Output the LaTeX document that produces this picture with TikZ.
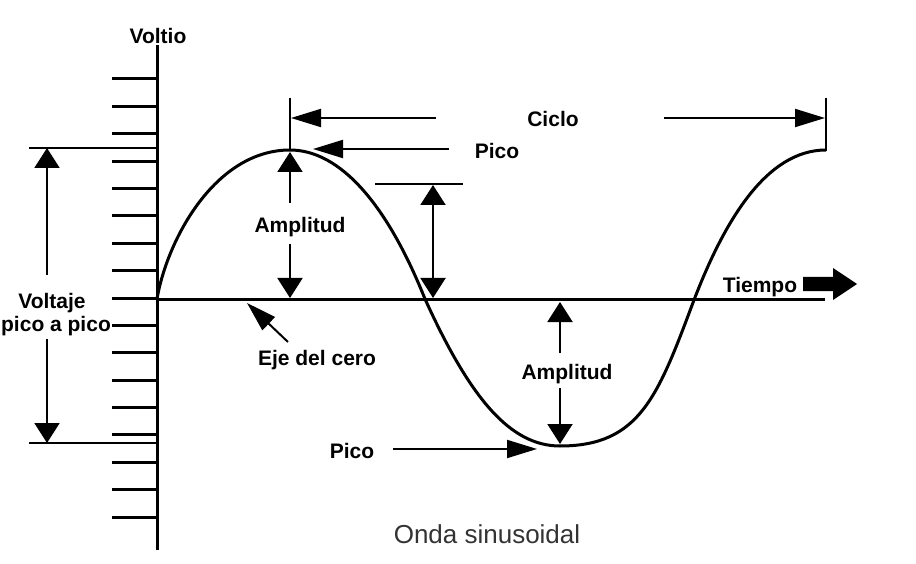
\documentclass[tikz,border=0pt]{standalone}
\usepackage{fontspec}
\setmainfont{Liberation Sans}
\usetikzlibrary{arrows.meta}
\begin{document}
\begin{tikzpicture}[x=1pt,y=-1pt,
  axisline/.style={line width=3pt},
  tickline/.style={line width=3pt},
  guide/.style={line width=2.2pt},
  wave/.style={line width=3pt, line join=round},
  lbl/.style={font=\fontsize{21}{21}\selectfont\bfseries, text height=15pt, text depth=0pt, inner sep=0pt},
  title/.style={font=\fontsize{26}{26}\selectfont, text=black!80, text height=18.5pt, text depth=0pt, inner sep=0pt},
  varr/.style={line width=2pt, -{Triangle[length=20pt,width=25pt]}},
  harr/.style={line width=2pt, -{Triangle[length=30pt,width=18pt]}},
  dblarr/.style={line width=2pt, {Triangle[length=20pt,width=25pt]}-{Triangle[length=20pt,width=25pt]}},
]
\useasboundingbox (0,0) rectangle (916,564);

% coordinates
\coordinate (vtop) at (157,45);
\coordinate (vbot) at (157,550);
\coordinate (z0) at (157,299);
\coordinate (z1) at (825,299);
\coordinate (pkL) at (29,148);
\coordinate (pkR) at (157,148);
\coordinate (trL) at (29,443);
\coordinate (trR) at (157,443);
\coordinate (pp1) at (47,275);
\coordinate (pp1t) at (47,148);
\coordinate (pp2) at (47,339);
\coordinate (pp2t) at (47,443);
\coordinate (m1top) at (290,98);
\coordinate (m1bot) at (290,151);
\coordinate (m2top) at (826,98);
\coordinate (m2bot) at (826,151);
\coordinate (c1s) at (436,118);
\coordinate (c1t) at (291,118);
\coordinate (c2s) at (664,118);
\coordinate (c2t) at (825,118);
\coordinate (p1s) at (449,149);
\coordinate (p1t) at (313,149);
\coordinate (a1s) at (290,203);
\coordinate (a1t) at (290,152);
\coordinate (a2s) at (290,244);
\coordinate (a2t) at (290,298);
\coordinate (hL) at (375,184);
\coordinate (hR) at (463,184);
\coordinate (d1) at (433,185);
\coordinate (d2) at (433,298);
\coordinate (es) at (288,342);
\coordinate (et) at (247,303);
\coordinate (b1s) at (560,353);
\coordinate (b1t) at (560,302);
\coordinate (b2s) at (560,388);
\coordinate (b2t) at (560,444);
\coordinate (q1s) at (393,449);
\coordinate (q1t) at (537,449);

% wave key points
\coordinate (w0) at (157,299);
\coordinate (w1) at (290,150);
\coordinate (w2) at (425,299);
\coordinate (w3) at (560,446);
\coordinate (w4) at (694,300);
\coordinate (w5) at (826,150);

% vertical axis and ticks
\draw[axisline] (vtop) -- (vbot);
\foreach \i in {0,...,16}{
  \draw[tickline] (112,{79+\i*27.375}) -- (157,{79+\i*27.375});
}
% zero axis
\draw[axisline] (z0) -- (z1);
% peak lines
\draw[guide] (pkL) -- (pkR);
\draw[guide] (trL) -- (trR);
% peak-to-peak arrows
\draw[varr] (pp1) -- (pp1t);
\draw[varr] (pp2) -- (pp2t);

% wave
\draw[wave] (w0) .. controls (167,240) and (215,150) .. (w1)
  .. controls (340,150) and (387,204) .. (w2)
  .. controls (470,398) and (510,446) .. (w3)
  .. controls (640,446) and (658,396) .. (w4)
  .. controls (724,222) and (766,150) .. (w5);

% cycle markers
\draw[guide] (m1top) -- (m1bot);
\draw[guide] (m2top) -- (m2bot);
\draw[harr] (c1s) -- (c1t);
\draw[harr] (c2s) -- (c2t);
% pico top
\draw[harr] (p1s) -- (p1t);
% amplitude 1
\draw[varr] (a1s) -- (a1t);
\draw[varr] (a2s) -- (a2t);
% second amplitude marker
\draw[guide] (hL) -- (hR);
\draw[dblarr] (d1) -- (d2);
% eje del cero arrow
\draw[harr] (es) -- (et);
% amplitude 2
\draw[varr] (b1s) -- (b1t);
\draw[varr] (b2s) -- (b2t);
% pico bottom
\draw[harr] (q1s) -- (q1t);

% tiempo block arrow
\fill (803,277) -- (833,277) -- (833,268) -- (857,284) -- (833,300) -- (833,291) -- (803,291) -- cycle;

% labels
\node[lbl] (voltio) at (158,36.5) {Voltio};
\node[lbl] (ciclo) at (553,119) {Ciclo};
\node[lbl] (pico1) at (497,151) {Pico};
\node[lbl] (amp1) at (300,225) {Amplitud};
\node[lbl] (tiempo) at (760,284.5) {Tiempo};
\node[lbl] (voltaje) at (52,301) {Voltaje};
\node[lbl, text height=11pt] (pap) at (56,326) {pico a pico};
\node[lbl] (eje) at (317,358) {Eje del cero};
\node[lbl] (amp2) at (567,372) {Amplitud};
\node[lbl] (pico2) at (352,450.5) {Pico};
\node[title] (onda) at (487,534) {Onda sinusoidal};
\end{tikzpicture}
\end{document}
